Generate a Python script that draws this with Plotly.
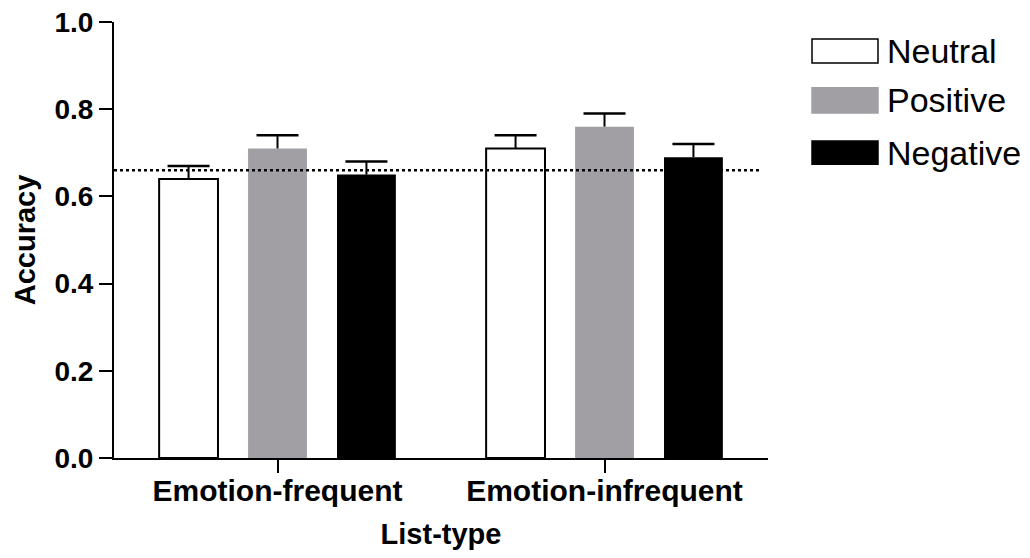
import plotly.graph_objects as go

# Accuracy by list type and emotion condition
list_types = ["Emotion-frequent", "Emotion-infrequent"]
neutral = [0.64, 0.71]
positive = [0.71, 0.76]
negative = [0.65, 0.69]
neutral_err = [0.03, 0.03]
positive_err = [0.03, 0.03]
negative_err = [0.03, 0.03]
chance_level = 0.66
series_names = ["Neutral", "Positive", "Negative"]
y_ticks = [0.0, 0.2, 0.4, 0.6, 0.8, 1.0]

GRAY = "#a19fa4"
FONT = "Liberation Sans, Arial, sans-serif"

BAR_WIDTH = 0.18
OFFSETS = [-0.272, 0.0, 0.272]

styles = [
    dict(color="white", line=dict(color="black", width=2)),
    dict(color=GRAY, line=dict(color=GRAY, width=0)),
    dict(color="black", line=dict(color="black", width=0)),
]
values = [neutral, positive, negative]
errors = [neutral_err, positive_err, negative_err]
group_pos = list(range(len(list_types)))

fig = go.Figure()
for name, vals, errs, style, off in zip(series_names, values, errors, styles, OFFSETS):
    xs = [g + off for g in group_pos]
    # bar with an upward-only error stem
    fig.add_trace(go.Bar(
        x=xs, y=vals, name=name, marker=style, width=BAR_WIDTH,
        error_y=dict(type="data", symmetric=False, array=errs,
                     arrayminus=[0] * len(errs), color="black",
                     thickness=2, width=0),
        showlegend=False,
    ))
    # cap on top of each error stem
    fig.add_trace(go.Scatter(
        x=xs, y=[v + e for v, e in zip(vals, errs)], mode="markers",
        marker=dict(symbol="line-ew", size=30, line=dict(color="black", width=2.5)),
        showlegend=False, hoverinfo="skip",
    ))

# dotted reference line
fig.add_shape(type="line", xref="x", yref="y", x0=-0.5, x1=1.479,
              y0=chance_level, y1=chance_level,
              line=dict(color="black", width=2.7, dash="3px,3px"))

# legend drawn as swatches + labels on the right
legend_rows = [(0.961, 0.906), (0.849, 0.791), (0.727, 0.674)]
swatch_fill = ["white", GRAY, "black"]
swatch_line = ["black", GRAY, "black"]
for name, (ytop, ybot), fill, lc in zip(series_names, legend_rows, swatch_fill, swatch_line):
    fig.add_shape(type="rect", xref="paper", yref="paper",
                  x0=1.0673, x1=1.1682, y0=ybot, y1=ytop,
                  fillcolor=fill, line=dict(color=lc, width=1.5))
    fig.add_annotation(xref="paper", yref="paper", x=1.179, y=(ytop + ybot) / 2,
                       text=name, showarrow=False, xanchor="left", yanchor="middle",
                       font=dict(family=FONT, size=34, color="black"))

fig.update_layout(
    width=1030, height=558,
    margin=dict(l=114, r=262, t=22, b=100),
    paper_bgcolor="white", plot_bgcolor="white",
    font=dict(family=FONT, color="black"),
)
fig.update_xaxes(
    range=[-0.5, 1.5], tickvals=group_pos, ticktext=list_types,
    showline=True, linecolor="black", linewidth=2,
    ticks="outside", ticklen=13, tickwidth=2, tickcolor="black",
    tickfont=dict(family=FONT, size=30, weight="bold"), ticklabelstandoff=-8,
    title=dict(text="List-type", font=dict(family=FONT, size=29, weight="bold"), standoff=18),
    showgrid=False, zeroline=False, automargin=False,
)
fig.update_yaxes(
    range=[0, 1.0], tickvals=y_ticks, tickformat=".1f",
    showline=True, linecolor="black", linewidth=2,
    ticks="outside", ticklen=13, tickwidth=2, tickcolor="black",
    tickfont=dict(family=FONT, size=28, weight="bold"),
    title=dict(text="Accuracy", font=dict(family=FONT, size=29, weight="bold"), standoff=10),
    showgrid=False, zeroline=False, automargin=False,
)

fig.write_html("out.html")
